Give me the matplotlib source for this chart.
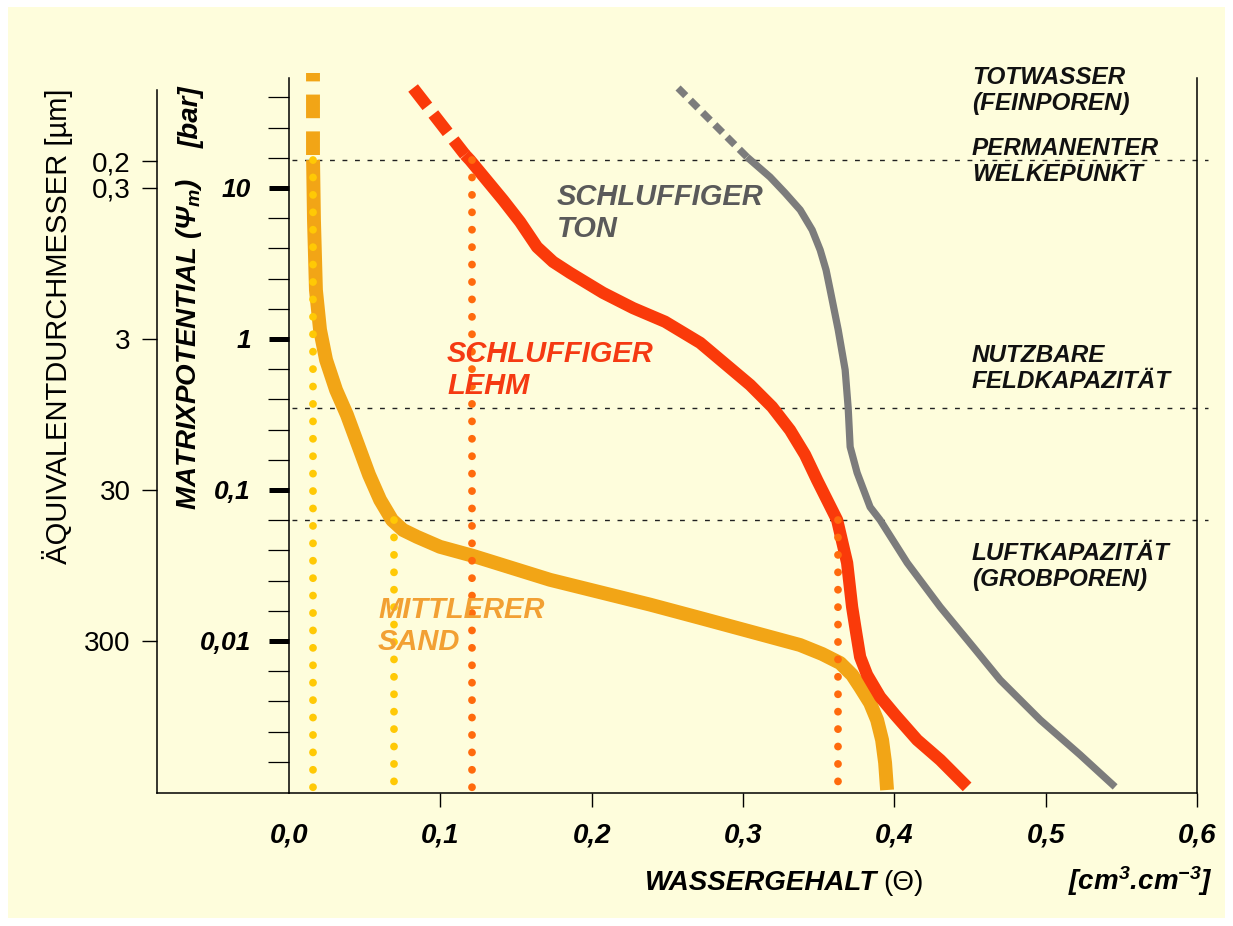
import matplotlib.pyplot as plt
from matplotlib.patches import Rectangle
from matplotlib.ticker import NullFormatter, NullLocator

plt.rcParams['font.family'] = ['Liberation Sans', 'DejaVu Sans']
plt.rcParams['mathtext.default'] = 'regular'

W, H = 1233, 926

# Wassergehalt theta [cm3/cm3] und Matrixpotential psi [bar]
sand_theta = [0.0159, 0.0165, 0.0178, 0.0205, 0.0245, 0.0311, 0.0383, 0.0456, 0.0529,
              0.0602, 0.0681, 0.0753, 0.0846, 0.0998, 0.1216, 0.1725, 0.2386, 0.2716,
              0.3377, 0.3523, 0.3642, 0.3721, 0.3774, 0.3840, 0.3886, 0.3919, 0.3939,
              0.3952]
sand_psi = [15.3, 6.14, 2.11, 1.15, 0.726, 0.459, 0.314, 0.199, 0.126,
            0.0859, 0.0632, 0.0543, 0.0489, 0.0420, 0.0366, 0.0254, 0.0174, 0.0142,
            0.0094, 0.0082, 0.00714, 0.00596, 0.00495, 0.00388, 0.0030, 0.00221, 0.00156,
            0.00103]
sand_top_theta = [0.0159, 0.0159]
sand_top_psi = [16.6, 57.8]

lehm_theta = [0.1163, 0.1196, 0.1414, 0.1527, 0.1639, 0.1745, 0.1857, 0.2075, 0.2274,
              0.2485, 0.2717, 0.3047, 0.3192, 0.3311, 0.3410, 0.3490, 0.3622, 0.3688,
              0.3721, 0.3747, 0.3774, 0.3820, 0.3906, 0.4005, 0.4151, 0.4303, 0.4481]
lehm_psi = [16.6, 15.3, 8.33, 5.96, 4.06, 3.24, 2.74, 2.02, 1.60,
            1.30, 0.942, 0.496, 0.355, 0.249, 0.171, 0.116, 0.0632, 0.0329,
            0.0168, 0.01148, 0.00783, 0.00596, 0.00426, 0.00324, 0.00221, 0.00163, 0.00108]
lehm_top_theta = [0.0820, 0.1163]
lehm_top_psi = [45.9, 16.6]

ton_theta = [0.3027, 0.3179, 0.3278, 0.3378, 0.3457, 0.3510, 0.3549, 0.3576, 0.3629,
             0.3675, 0.3695, 0.3708, 0.3754, 0.3840, 0.3906, 0.4085, 0.4303, 0.4521,
             0.4699, 0.4964, 0.5228, 0.5459]
ton_psi = [16.0, 11.8, 9.27, 7.15, 5.27, 3.88, 2.86, 2.11, 1.15,
           0.624, 0.349, 0.193, 0.130, 0.077, 0.0632, 0.0329, 0.0168, 0.00912,
           0.00552, 0.00300, 0.00176, 0.00108]
ton_top_theta = [0.2571, 0.3027]
ton_top_psi = [45.9, 16.0]

# senkrechte Punktlinien (Wassergehalt bei PWP und LK)
dot_theta = [0.0159, 0.0694, 0.1210, 0.3628]
dot_psi_top = [15.3, 0.0632, 15.3, 0.0632]
dot_psi_bottom = 0.00105
dot_colors = ['#FFC905', '#FFC905', '#FF6A0C', '#FF6A0C']

# Grenzen der Porenbereiche [bar]
grenz_psi = [15.3, 0.349, 0.0632]

psi_ticks = [10, 1, 0.1, 0.01]
psi_labels = ['10', '1', '0,1', '0,01']
psi_minor = [10 ** (n / 5) for n in range(-14, 9) if n % 5]
diam_values = [0.2, 0.3, 3, 30, 300]
diam_labels = ['0,2', '0,3', '3', '30', '300']
theta_ticks = [0.0, 0.1, 0.2, 0.3, 0.4, 0.5, 0.6]
theta_labels = ['0,0', '0,1', '0,2', '0,3', '0,4', '0,5', '0,6']

c_sand = '#F2A516'
c_lehm = '#FA3A0A'
c_ton = '#7C7C7C'


def fx(x):
    return x / W


def fy(y):
    return 1 - y / H


fig = plt.figure(figsize=(W / 100, H / 100), dpi=100)
fig.patch.set_facecolor('white')
fig.patches.append(Rectangle((8 / W, 8 / H), (W - 16) / W, (H - 15) / H,
                             transform=fig.transFigure, facecolor='#FEFDDC',
                             edgecolor='none', zorder=-10))

ax = fig.add_axes([289 / W, 1 - 793 / H, 908 / W, 715 / H])
ax.set_facecolor('none')
ax.set_yscale('log')
ax.set_xlim(0, 0.6)
ax.set_ylim(10 ** -3.007, 10 ** 1.728)
ax.spines['top'].set_visible(False)
for s in ['left', 'right', 'bottom']:
    ax.spines[s].set_linewidth(1.1)

# Kurven
ax.plot(ton_theta, ton_psi, color=c_ton, lw=5.2, solid_capstyle='butt',
        solid_joinstyle='round', zorder=3)
ax.plot(ton_top_theta, ton_top_psi, color=c_ton, lw=5.2, ls=(0, (1.5, 0.9)),
        dash_capstyle='butt', zorder=3, clip_on=False)
ax.plot(sand_theta, sand_psi, color=c_sand, lw=10, solid_capstyle='butt',
        solid_joinstyle='round', zorder=3)
ax.plot(sand_top_theta, sand_top_psi, color=c_sand, lw=10, ls=(0, (1.7, 0.95)),
        dash_capstyle='butt', zorder=3, clip_on=False)
ax.plot(lehm_theta, lehm_psi, color=c_lehm, lw=8.8, solid_capstyle='butt',
        solid_joinstyle='round', zorder=4)
ax.plot(lehm_top_theta, lehm_top_psi, color=c_lehm, lw=8.8, ls=(0, (1.9, 0.8)),
        dash_capstyle='butt', zorder=4, clip_on=False)

for t, top, c in zip(dot_theta, dot_psi_top, dot_colors):
    ax.plot([t, t], [top, dot_psi_bottom], color=c, lw=5.6, ls=(0, (0.01, 2.23)),
            dash_capstyle='round', zorder=5)

for p in grenz_psi:
    ax.plot([0.003, 1.012], [p, p], transform=ax.get_yaxis_transform(),
            color='#222222', lw=1, ls=(0, (3.5, 5.5)), clip_on=False, zorder=2)

# Achse links unten verlaengern
ax.plot([-0.1454, 0], [0, 0], transform=ax.transAxes, color='black', lw=1.1,
        clip_on=False)

# Ticks
ax.set_xticks(theta_ticks, labels=theta_labels, fontsize=20, fontweight='bold',
              fontstyle='italic')
ax.tick_params(axis='x', direction='out', length=10, width=1, pad=11)
ax.xaxis.get_major_ticks()[0].tick1line.set_visible(False)

ax.set_yticks(psi_ticks, labels=psi_labels, fontsize=19, fontweight='bold',
              fontstyle='italic')
ax.set_yticks(psi_minor, minor=True)
ax.yaxis.set_minor_formatter(NullFormatter())
ax.tick_params(axis='y', which='major', direction='out', length=14.5, width=3.6, pad=13)
ax.tick_params(axis='y', which='minor', direction='out', length=15, width=0.9)

sec = ax.secondary_yaxis(-0.1454)
sec.set_ticks([3 / d for d in diam_values], labels=diam_labels, fontsize=20)
sec.yaxis.set_minor_locator(NullLocator())
sec.tick_params(axis='y', which='minor', length=0)
sec.tick_params(axis='y', which='major', direction='out', length=11, width=1, pad=8)
sec.spines['left'].set_linewidth(1.1)
sec.spines['left'].set_bounds(10 ** -3.007, 44.6)

# Achsentitel
fig.text(fx(58), fy(326), 'ÄQUIVALENTDURCHMESSER [µm]', rotation=90, fontsize=21,
         ha='center', va='center')
fig.text(fx(189), fy(510), 'MATRIXPOTENTIAL (Ψ$_m$)', rotation=90, fontsize=20,
         fontweight='bold', fontstyle='italic', ha='center', va='bottom')
fig.text(fx(192), fy(148), '[bar]', rotation=90, fontsize=20,
         fontweight='bold', fontstyle='italic', ha='center', va='bottom')
fig.text(fx(877), fy(890), 'WASSERGEHALT', fontsize=20, fontweight='bold',
         fontstyle='italic', ha='right', va='baseline')
fig.text(fx(883), fy(890), '(Θ)', fontsize=20, ha='left', va='baseline')
fig.text(fx(1068), fy(890), '[cm$^3$.cm$^{-3}$]', fontsize=20, fontweight='bold',
         fontstyle='italic', ha='left', va='baseline')

# Kurvenbeschriftung
bold_it = dict(fontweight='bold', fontstyle='italic', ha='left', va='baseline')
fig.text(fx(557), fy(205), 'SCHLUFFIGER', color='#5A5A5A', fontsize=21, **bold_it)
fig.text(fx(557), fy(237), 'TON', color='#5A5A5A', fontsize=21, **bold_it)
fig.text(fx(447), fy(362), 'SCHLUFFIGER', color='#F53A12', fontsize=21, **bold_it)
fig.text(fx(447), fy(394), 'LEHM', color='#F53A12', fontsize=21, **bold_it)
fig.text(fx(378), fy(618), 'MITTLERER', color='#F2A033', fontsize=21, **bold_it)
fig.text(fx(378), fy(650), 'SAND', color='#F2A033', fontsize=21, **bold_it)

# Porenbereiche
for txt, y in [('TOTWASSER', 84), ('(FEINPOREN)', 110),
               ('PERMANENTER', 155), ('WELKEPUNKT', 181),
               ('NUTZBARE', 362), ('FELDKAPAZITÄT', 388),
               ('LUFTKAPAZITÄT', 560), ('(GROBPOREN)', 586)]:
    fig.text(fx(972), fy(y), txt, color='#111111', fontsize=17.5, **bold_it)

fig.savefig('out.png', dpi=100)
